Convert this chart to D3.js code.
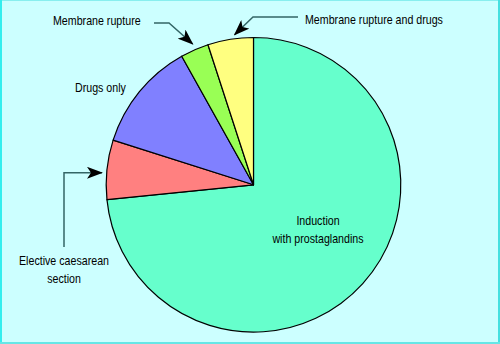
<!DOCTYPE html>
<html><head><meta charset="utf-8">
<script src="https://cdn.jsdelivr.net/npm/d3@7"></script>
<style>html,body{margin:0;padding:0;background:#fff}svg{display:block}</style>
</head><body>
<svg id="c" width="500" height="344"></svg>
<script>
const categories = ["Induction with prostaglandins","Elective caesarean section","Drugs only","Membrane rupture","Membrane rupture and drugs"];
const values = [73.4, 6.5, 12.0, 3.1, 5.0];
const colors = ["#66FFCC","#FF8080","#8080FF","#99FF55","#FFFF80"];

const W = 500, H = 344;
const svg = d3.select("#c");
svg.append("rect").attr("x",0).attr("y",0).attr("width",W).attr("height",H).attr("fill","#CCFFFF");
// border
svg.append("line").attr("x1",0).attr("y1",0.5).attr("x2",W).attr("y2",0.5).attr("stroke","#88EEEE").attr("stroke-width",1);
svg.append("line").attr("x1",1).attr("y1",0).attr("x2",1).attr("y2",H).attr("stroke","#33EEEE").attr("stroke-width",2);
svg.append("line").attr("x1",W-1).attr("y1",0).attr("x2",W-1).attr("y2",H).attr("stroke","#44E0E0").attr("stroke-width",2);
svg.append("line").attr("x1",0).attr("y1",H-1).attr("x2",W).attr("y2",H-1).attr("stroke","#66E6E6").attr("stroke-width",2);

const cx = 253.5, cy = 184.8, r = 147.3;
const pie = d3.pie().sort(null).value(d => d)(values);
const arc = d3.arc().innerRadius(0).outerRadius(r);
const g = svg.append("g").attr("transform",`translate(${cx},${cy})`);
g.selectAll("path").data(pie).join("path")
  .attr("d", arc)
  .attr("fill",(d,i)=>colors[i])
  .attr("stroke","#000").attr("stroke-width",1.2).attr("stroke-linejoin","round");

// arrow marker
const defs = svg.append("defs");
defs.append("marker").attr("id","ah").attr("viewBox","0 0 16 12").attr("refX",15).attr("refY",6)
  .attr("markerWidth",16).attr("markerHeight",12).attr("markerUnits","userSpaceOnUse").attr("orient","auto")
  .append("path").attr("d","M0,0 L16,6 L0,12 L4,6 Z").attr("fill","#000");

const font = "'Liberation Sans',Arial,sans-serif";
function label(x,y,lines,anchor){
  const t = svg.append("text").attr("font-family",font).attr("font-size",13).attr("fill","#000")
    .attr("text-anchor",anchor||"middle").attr("transform",`translate(${x},${y}) scale(0.82,1)`);
  lines.forEach((l,i)=>t.append("tspan").attr("x",0).attr("y",i*18).text(l));
}
const lc = "#336666";
function leader(pts){
  svg.append("path").attr("d",d3.line()(pts)).attr("fill","none").attr("stroke",lc).attr("stroke-width",1.5).attr("marker-end","url(#ah)");
}
function edgePt(i, frac, extra){
  const a = pie[i].startAngle + (pie[i].endAngle - pie[i].startAngle)*frac;
  const rr = r + (extra||0);
  return [cx + rr*Math.sin(a), cy - rr*Math.cos(a)];
}

// Induction
label(318, 225, ["Induction","with prostaglandins"]);
// Elective caesarean
label(64, 265, ["Elective caesarean","section"]);
const pc = edgePt(1, 0.44, 4.7);
leader([[64,247],[64,pc[1]],[pc[0],pc[1]]]);
// Drugs only
label(75, 92, ["Drugs only"], "start");
// Membrane rupture
label(53, 25, ["Membrane rupture"], "start");
const pm = edgePt(3, 0.52, 6);
leader([[154,23],[169,23],pm]);
// Membrane rupture and drugs
label(305, 24, ["Membrane rupture and drugs"], "start");
const pd = edgePt(4, 0.6, 4);
leader([[298,17],[253,17],pd]);
</script>
</body></html>
